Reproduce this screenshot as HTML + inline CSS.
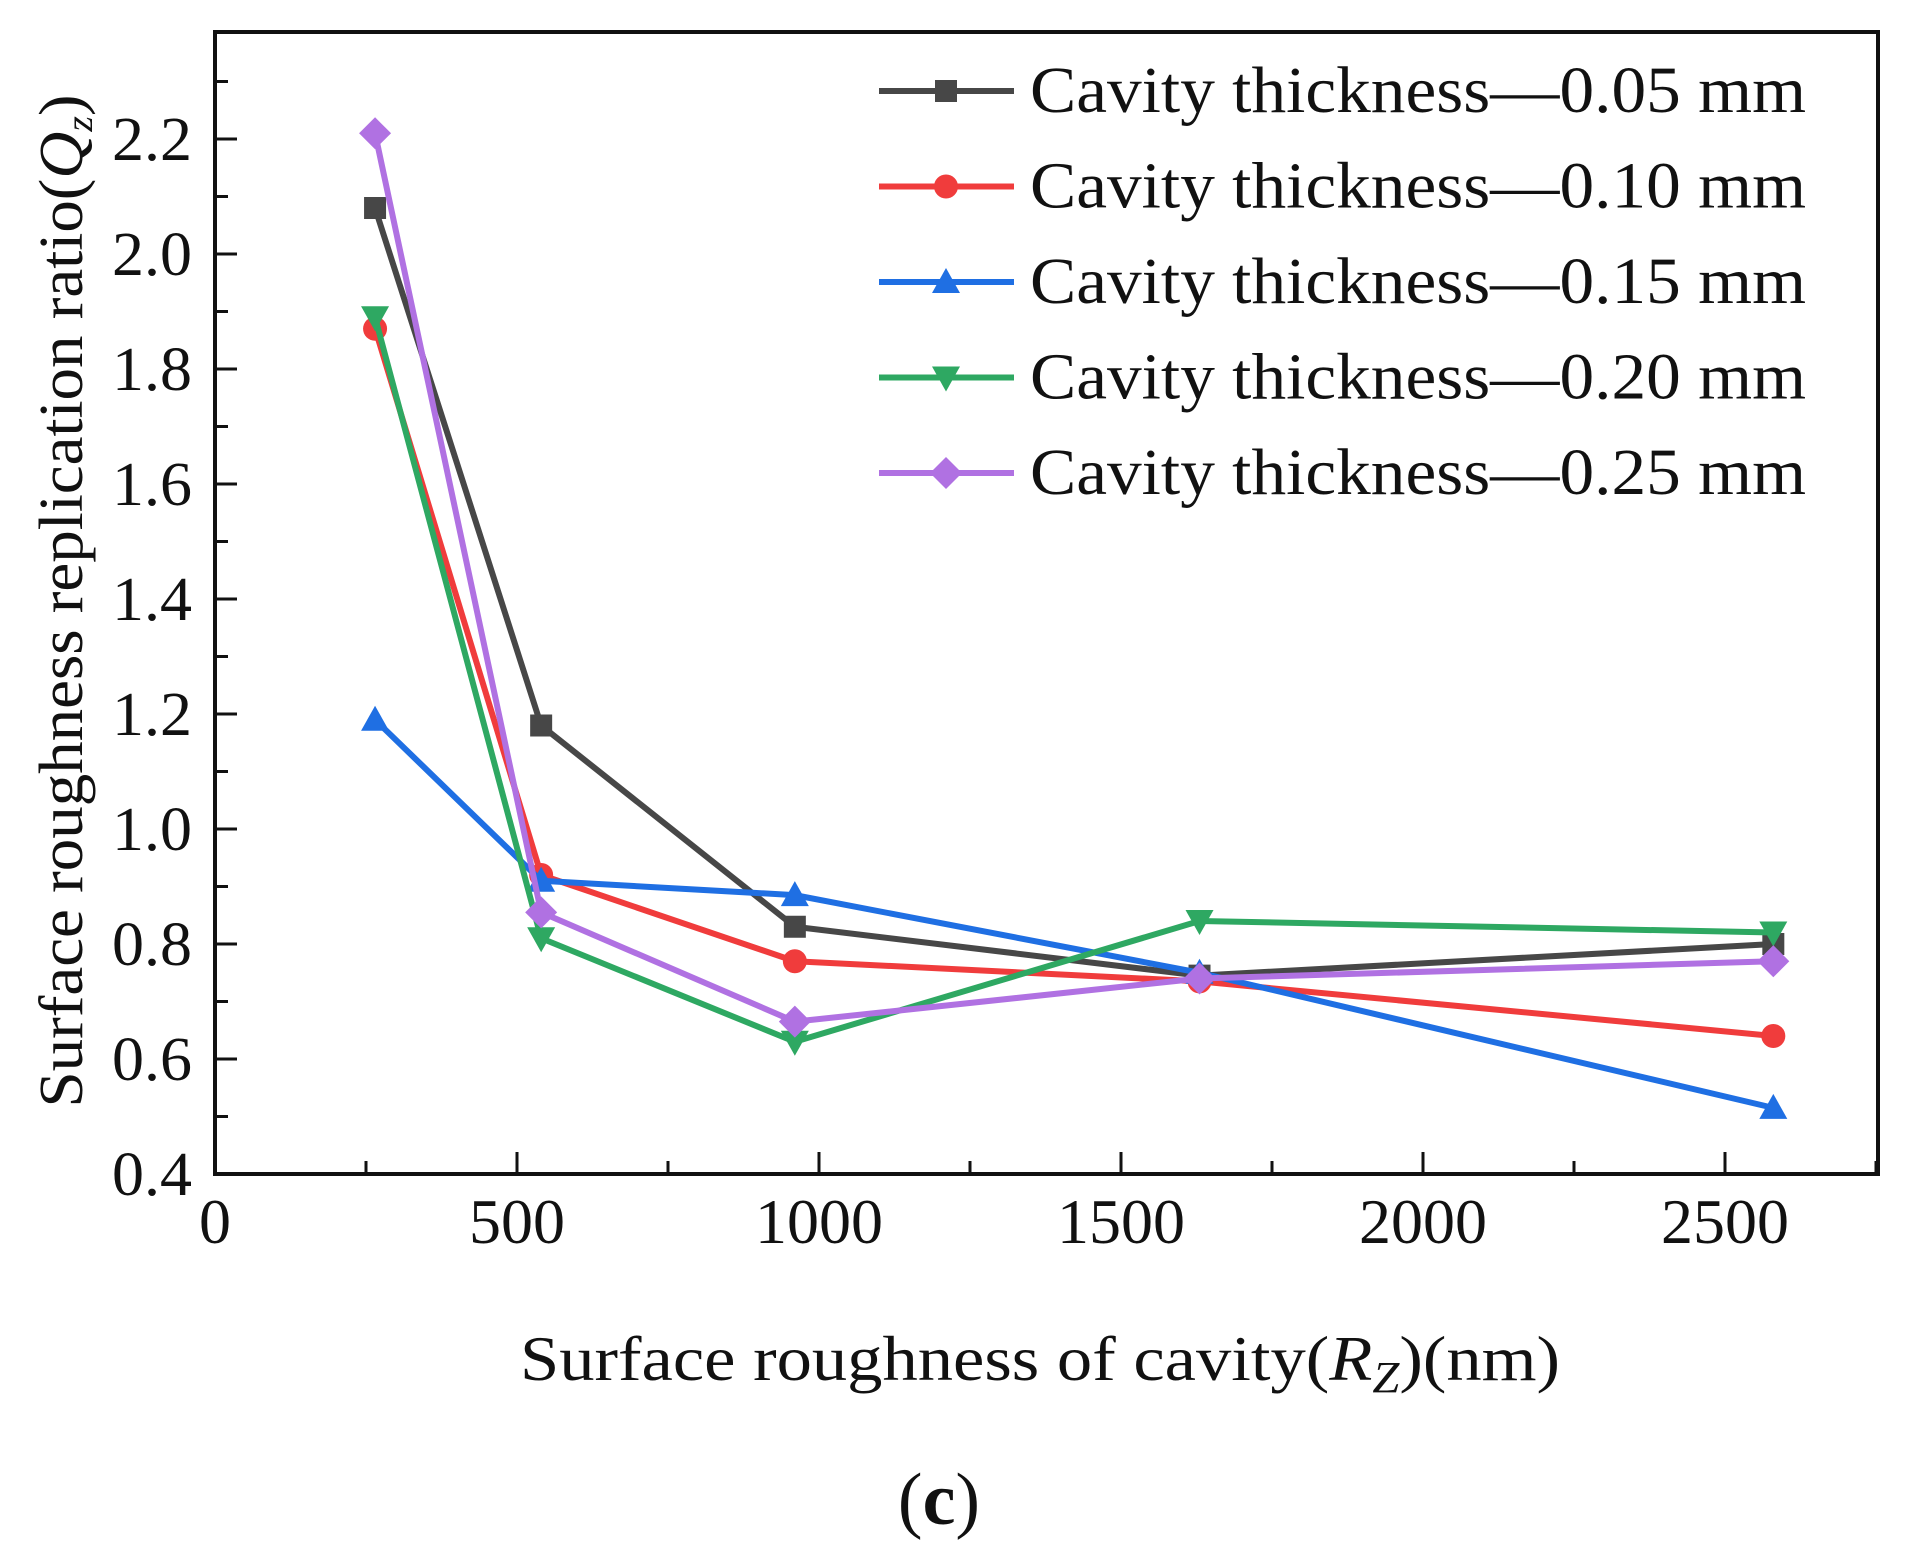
<!DOCTYPE html>
<html><head><meta charset="utf-8"><style>
html,body{margin:0;padding:0;background:#fff}
svg{display:block}
text{font-family:"Liberation Serif",serif;fill:#111}
</style></head><body>
<svg id="chart" width="1928" height="1560" viewBox="0 0 1928 1560" xmlns="http://www.w3.org/2000/svg">
<rect x="0" y="0" width="1928" height="1560" fill="#fff"/>
<g id="plot"></g>
<text x="601" y="82" font-size="62" text-anchor="middle" transform="translate(0,0) rotate(-90 0 0) translate(-1202,0)" textLength="1013" lengthAdjust="spacingAndGlyphs">Surface roughness replication ratio(<tspan font-style="italic">Q</tspan><tspan font-style="italic" font-size="38" dy="10">z</tspan><tspan dy="-10">)</tspan></text>
<text x="1040" y="1380" font-size="64" text-anchor="middle" textLength="1040" lengthAdjust="spacingAndGlyphs">Surface roughness of cavity(<tspan font-style="italic">R</tspan><tspan font-style="italic" font-size="44" dy="12">Z</tspan><tspan dy="-12">)(nm)</tspan></text>
<text x="939" y="1524" font-size="74" text-anchor="middle">(<tspan font-weight="bold">c</tspan>)</text>
</svg>
<script>
const categories = [265, 540, 960, 1630, 2580];
const seriesNames = ["Cavity thickness\u20140.05 mm","Cavity thickness\u20140.10 mm","Cavity thickness\u20140.15 mm","Cavity thickness\u20140.20 mm","Cavity thickness\u20140.25 mm"];
const s005 = [2.08, 1.18, 0.83, 0.745, 0.80];
const s010 = [1.87, 0.92, 0.77, 0.735, 0.64];
const s015 = [1.19, 0.91, 0.885, 0.75, 0.515];
const s020 = [1.89, 0.81, 0.63, 0.84, 0.82];
const s025 = [2.21, 0.855, 0.665, 0.74, 0.77];
const yTicks = [0.4,0.6,0.8,1.0,1.2,1.4,1.6,1.8,2.0,2.2];
const yTickLabels = ["0.4","0.6","0.8","1.0","1.2","1.4","1.6","1.8","2.0","2.2"];
const xTicks = [0,500,1000,1500,2000,2500];
const xTickLabels = ["0","500","1000","1500","2000","2500"];

const NS="http://www.w3.org/2000/svg";
const L=215,R=1878,T=32,B=1174;
const X0=0,X1=(R-L)/0.604, Y0=0.4, Y1=0.4+(B-T)/575;
const sx=v=>L+(v-X0)/(X1-X0)*(R-L);
const sy=v=>B-(v-Y0)/(Y1-Y0)*(B-T);
const g=document.getElementById('plot');
function mk(tag,attrs,parent){const e=document.createElementNS(NS,tag);for(const k in attrs)e.setAttribute(k,attrs[k]);(parent||g).appendChild(e);return e;}

for(let k=5;k/10<Y1;k++){const v=k/10;const y=sy(v);const major=k%2===0;
 const t=mk('line',{x1:L,x2:L+(major?22:13),y1:y,y2:y,stroke:'#111','stroke-width':3});
 
 }
for(let v=250;v<X1;v+=250){const x=sx(v);const major=v%500===0;
 const t=mk('line',{x1:x,x2:x,y1:B,y2:B-(major?22:13),stroke:'#111','stroke-width':3});
 
 }
yTicks.forEach((v,i)=>{const t=mk('text',{x:192,y:sy(v)+21,'font-size':62,'text-anchor':'end',textLength:80,lengthAdjust:'spacingAndGlyphs'});t.textContent=yTickLabels[i];
 
 });
xTicks.forEach((v,i)=>{const t=mk('text',{x:sx(v),y:1243,'font-size':64,'text-anchor':'middle'});t.textContent=xTickLabels[i];
 
 });
const frame=mk('rect',{x:L,y:T,width:R-L,height:B-T,fill:'none',stroke:'#111','stroke-width':4});



const colors=['#474747','#f03c3c','#1f6fe3','#2ea862','#b071e2'];
const shapes=['square','circle','up','down','diamond'];
const data=[s005,s010,s015,s020,s025];
const keys=['005','010','015','020','025'];
function marker(shape,x,y,c,parent){
 let e;
 if(shape==='square') e=mk('rect',{x:x-11,y:y-11,width:22,height:22,fill:c},parent);
 else if(shape==='circle') e=mk('circle',{cx:x,cy:y,r:12,fill:c},parent);
 else if(shape==='up') e=mk('polygon',{points:`${x},${y-14} ${x+14},${y+11} ${x-14},${y+11}`,fill:c},parent);
 else if(shape==='down') e=mk('polygon',{points:`${x},${y+14} ${x+14},${y-11} ${x-14},${y-11}`,fill:c},parent);
 else e=mk('polygon',{points:`${x},${y-16} ${x+16},${y} ${x},${y+16} ${x-16},${y}`,fill:c},parent);
 return e;
}
data.forEach((arr,si)=>{
 const sg=mk('g',{});
 
 
 const pts=arr.map((v,i)=>sx(categories[i])+','+sy(v)).join(' ');
 const pl=mk('polyline',{points:pts,fill:'none',stroke:colors[si],'stroke-width':6,'stroke-linejoin':'round'},sg);
 
 
 arr.forEach((v,i)=>{const m=marker(shapes[si],sx(categories[i]),sy(v),colors[si],sg);
  
  });
});
const lg=mk('g',{});


seriesNames.forEach((n,i)=>{
 const y=91+i*95.5;
 const eg=mk('g',{},lg);
 
 
 mk('line',{x1:879,x2:1014,y1:y,y2:y,stroke:colors[i],'stroke-width':6},eg);
 marker(shapes[i],946,y,colors[i],eg);
 const t=mk('text',{x:1030,y:y+21,'font-size':66,textLength:776,lengthAdjust:'spacingAndGlyphs'},eg);
 t.textContent=n;
});
</script>
</body></html>
